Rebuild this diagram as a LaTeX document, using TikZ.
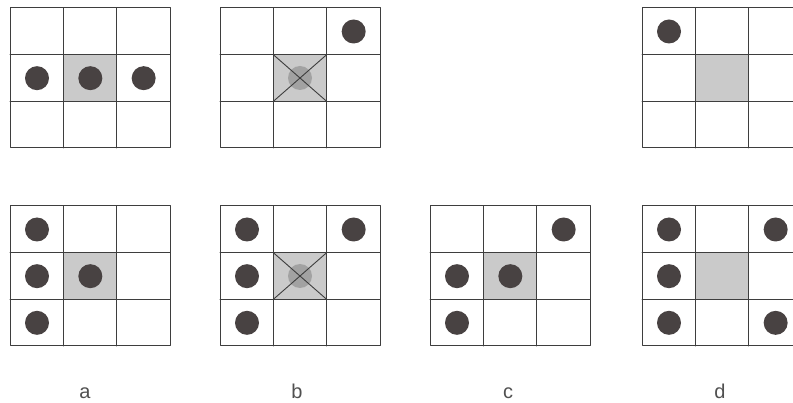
\documentclass[tikz,border=0pt]{standalone}
\usepackage{fontspec}
\setsansfont{Liberation Sans}
\definecolor{linea}{RGB}{62,62,62}
\definecolor{punto}{RGB}{72,66,66}
\definecolor{centro}{RGB}{202,202,202}
\definecolor{sbiadito}{RGB}{162,162,162}
\definecolor{testo}{RGB}{80,80,80}
\begin{document}
\begin{tikzpicture}[x=1pt, y=-1pt, line width=1pt, line cap=round, line join=round,
    griglia/.style={draw=linea},
    cella/.style={fill=centro},
    pallino/.style={fill=punto},
    ombra/.style={fill=sbiadito},
    croce/.style={draw=linea, line width=0.9pt},
    etichetta/.style={font=\sffamily\fontsize{20}{24}\selectfont, text=testo, anchor=base}]
    % Area del disegno (il riquadro d taglia il bordo destro)
    \clip (0,0) rectangle (793,403);

    % Celle centrali grigie
    \foreach \x/\y in {10/8, 220/8, 642/8, 10/206, 220/206, 430/206, 642/206}
        \fill[cella] (\x+53.33,\y+46.67) rectangle ++(53.33,46.67);

    % Pallino sbiadito sotto la croce (riquadri b)
    \foreach \x/\y in {220/8, 220/206}
        \fill[ombra] (\x+80,\y+70) circle[radius=12];

    % Pallini pieni: origine del riquadro / colonna / riga
    \foreach \x/\y/\c/\r in {10/8/0/1, 10/8/1/1, 10/8/2/1,
                             220/8/2/0,
                             642/8/0/0,
                             10/206/0/0, 10/206/0/1, 10/206/0/2, 10/206/1/1,
                             220/206/0/0, 220/206/2/0, 220/206/0/1, 220/206/0/2,
                             430/206/2/0, 430/206/0/1, 430/206/1/1, 430/206/0/2,
                             642/206/0/0, 642/206/2/0, 642/206/0/1, 642/206/0/2, 642/206/2/2}
        \fill[pallino] (\x+\c*53.33+27,\y+\r*46.67+23.5) circle[radius=12];

    % Griglie 3x3
    \foreach \x/\y in {10/8, 220/8, 642/8, 10/206, 220/206, 430/206, 642/206} {
        \draw[griglia] (\x,\y) rectangle ++(160,140);
        \draw[griglia] (\x+53.33,\y) -- ++(0,140) (\x+106.67,\y) -- ++(0,140)
                       (\x,\y+46.67) -- ++(160,0) (\x,\y+93.33) -- ++(160,0);
    }

    % Croce sulla cella centrale (riquadri b)
    \foreach \x/\y in {220/8, 220/206}
        \draw[croce] (\x+53.33,\y+46.67) -- ++(53.33,46.67)
                     (\x+106.67,\y+46.67) -- ++(-53.33,46.67);

    % Etichette
    \node[etichetta] (et-a) at (85,399) {a};
    \node[etichetta] (et-b) at (297,399) {b};
    \node[etichetta] (et-c) at (508,399) {c};
    \node[etichetta] (et-d) at (720,399) {d};
\end{tikzpicture}
\end{document}
